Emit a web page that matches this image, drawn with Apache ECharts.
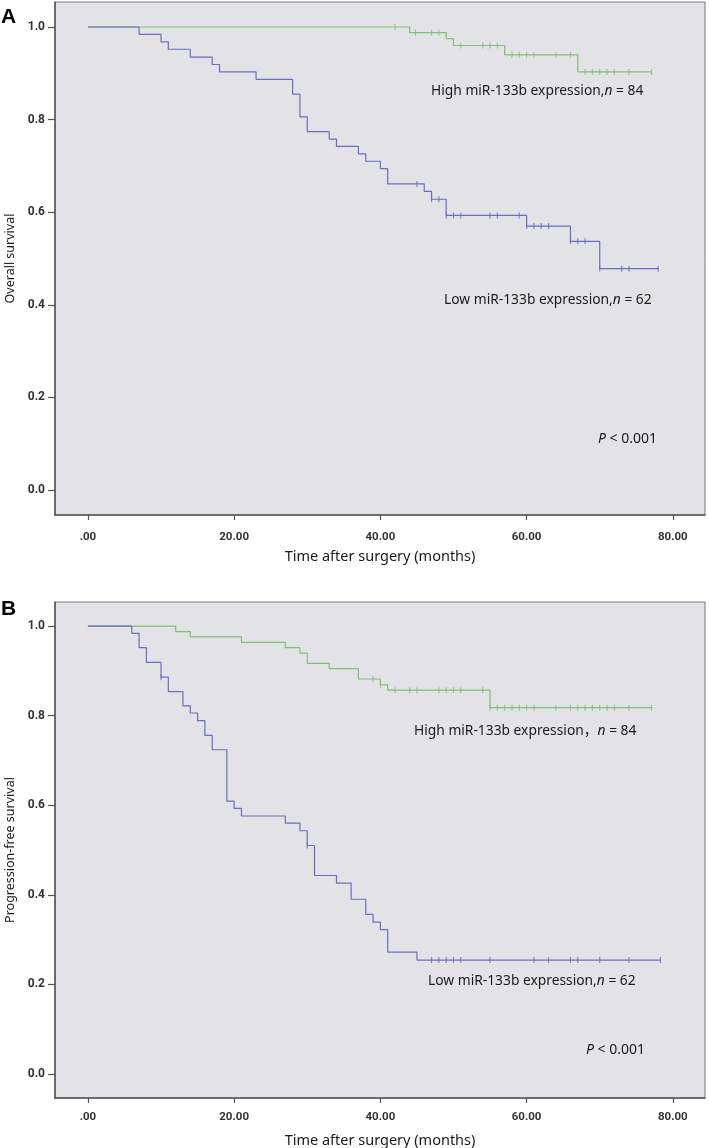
<!DOCTYPE html>
<html>
<head>
<meta charset="utf-8">
<script src="https://cdn.jsdelivr.net/npm/echarts@6/dist/echarts.min.js"></script>
<style>html,body{margin:0;padding:0;background:#fff;}#c{width:709px;height:1148px;}</style>
</head>
<body>
<div id="c"></div>
<script>
// ---- Tick labels ----
const xTicks = [0, 20, 40, 60, 80];
const xTickLabels = ['.00', '20.00', '40.00', '60.00', '80.00'];
const yTicks = [0, 0.2, 0.4, 0.6, 0.8, 1.0];
const yTickLabels = ['0.0', '0.2', '0.4', '0.6', '0.8', '1.0'];

// ---- Panel A: Overall survival ----
const aLowTimes  = [0, 7, 10, 11, 14, 17, 18, 23, 28, 29, 30, 33, 34, 37, 38, 40, 41, 46, 47, 49, 60, 66, 70, 78];
const aLowSurv   = [1, 0.984, 0.968, 0.952, 0.935, 0.919, 0.903, 0.887, 0.855, 0.806, 0.774, 0.758, 0.742, 0.726, 0.710, 0.694, 0.661, 0.645, 0.628, 0.593, 0.570, 0.537, 0.478, 0.478];
const aLowCens   = [45, 47, 48, 49, 50, 51, 55, 56, 59, 60, 61, 62, 63, 66, 67, 68, 70, 73, 74, 78];
const aHighTimes = [0, 44, 49, 50, 57, 67, 77.1];
const aHighSurv  = [1, 0.988, 0.975, 0.960, 0.940, 0.903, 0.903];
const aHighCens  = [42, 44.8, 47, 48, 51, 54, 55, 56, 58, 59, 60, 61, 64, 66, 68, 69, 70, 71, 72, 74, 77.1];

// ---- Panel B: Progression-free survival ----
const bLowTimes  = [0, 6, 7, 8, 10, 11, 13, 14, 15, 16, 17, 19, 20, 21, 27, 29, 30, 31, 34, 36, 38, 39, 40, 41, 45, 78.3];
const bLowSurv   = [1, 0.984, 0.952, 0.919, 0.886, 0.854, 0.822, 0.806, 0.789, 0.756, 0.724, 0.609, 0.593, 0.576, 0.560, 0.543, 0.510, 0.443, 0.426, 0.390, 0.356, 0.339, 0.322, 0.272, 0.254, 0.254];
const bLowCens   = [10, 30, 47, 48, 49, 50, 51, 55, 61, 63, 66, 67, 70, 74, 78.3];
const bHighTimes = [0, 12, 14, 21, 27, 29, 30, 33, 37, 40, 41, 55, 77.1];
const bHighSurv  = [1, 0.988, 0.976, 0.964, 0.952, 0.940, 0.917, 0.905, 0.882, 0.869, 0.857, 0.818, 0.818];
const bHighCens  = [39, 40, 42, 44, 45, 48, 49, 50, 51, 54, 55, 56, 57, 58, 59, 60, 61, 64, 66, 67, 68, 69, 70, 71, 72, 74, 77.1];

const GREEN = '#84bd78';
const BLUE = '#6a6dbf';
const BG = '#e3e3e7';
const TXT = '#1a1a1a';
const FONT = 'Noto Sans, Noto Sans CJK SC';

function pairs(t, s) { return t.map((v, i) => [v, s[i]]); }
function survAt(t, s, x) { let v = s[0]; for (let i = 0; i < t.length; i++) { if (t[i] <= x) v = s[i]; } return v; }
function cens(t, s, c) { return c.map(x => [x, survAt(t, s, x)]); }

function xAxis(gi) {
  return {
    type: 'value', gridIndex: gi, min: -4.5, max: 84.4,
    name: 'Time after surgery (months)', nameLocation: 'middle', nameGap: gi === 0 ? 35 : 36,
    nameTextStyle: { fontSize: 14.5, color: TXT, fontFamily: FONT },
    axisLine: { show: true, onZero: false, lineStyle: { color: '#555', width: 1.5 } },
    axisTick: { show: true, length: 5, customValues: xTicks, lineStyle: { color: '#555', width: 1.2 } },
    axisLabel: { customValues: xTicks, margin: gi === 0 ? 16 : 13, fontSize: 11.5, fontWeight: 'bold', color: '#333', fontFamily: 'Roboto',
      formatter: v => xTickLabels[xTicks.indexOf(v)] },
    splitLine: { show: false }
  };
}
function yAxis(gi, name) {
  return {
    type: 'value', gridIndex: gi, min: -0.054, max: 1.054,
    name: name, nameLocation: 'middle', nameRotate: 90, nameGap: 38,
    nameTextStyle: { fontSize: 12.5, color: TXT, fontFamily: FONT },
    axisLine: { show: true, onZero: false, lineStyle: { color: '#555', width: 1.5 } },
    axisTick: { show: true, length: 7, customValues: yTicks, lineStyle: { color: '#555', width: 1.2 } },
    axisLabel: { customValues: yTicks, margin: 10, fontSize: 12, fontWeight: 'bold', color: '#333', fontFamily: 'Roboto',
      formatter: v => yTickLabels[yTicks.indexOf(Math.round(v * 10) / 10)] },
    splitLine: { show: false }
  };
}
function km(gi, t, s, color) {
  return { type: 'line', xAxisIndex: gi, yAxisIndex: gi, step: 'end', data: pairs(t, s), showSymbol: false,
    lineStyle: { color: color, width: 1.2 }, silent: true, animation: false, z: 3 };
}
function cm(gi, t, s, c, color) {
  return { type: 'scatter', xAxisIndex: gi, yAxisIndex: gi, data: cens(t, s, c), symbol: 'rect', symbolSize: [1.2, 6],
    itemStyle: { color: color }, silent: true, animation: false, z: 4 };
}
function label(x, y, text, size) {
  return { type: 'text', x: x, y: y, z: 10, style: {
    text: text, fontSize: size, fontFamily: FONT, fill: TXT, verticalAlign: 'middle',
    rich: { i: { fontStyle: 'italic', fontSize: size, fontFamily: FONT, fill: TXT } } } };
}

const chart = echarts.init(document.getElementById('c'), null, { renderer: 'canvas' });
chart.setOption({
  animation: false,
  backgroundColor: '#ffffff',
  grid: [
    { left: 55, top: 2, width: 650, height: 513, show: true, backgroundColor: BG, borderColor: '#777', borderWidth: 1, containLabel: false, outerBoundsMode: 'none' },
    { left: 55, top: 602, width: 650, height: 496, show: true, backgroundColor: BG, borderColor: '#777', borderWidth: 1, containLabel: false, outerBoundsMode: 'none' }
  ],
  xAxis: [xAxis(0), xAxis(1)],
  yAxis: [yAxis(0, 'Overall survival'), yAxis(1, 'Progression-free survival')],
  series: [
    km(0, aHighTimes, aHighSurv, GREEN), cm(0, aHighTimes, aHighSurv, aHighCens, GREEN),
    km(0, aLowTimes, aLowSurv, BLUE), cm(0, aLowTimes, aLowSurv, aLowCens, BLUE),
    km(1, bHighTimes, bHighSurv, GREEN), cm(1, bHighTimes, bHighSurv, bHighCens, GREEN),
    km(1, bLowTimes, bLowSurv, BLUE), cm(1, bLowTimes, bLowSurv, bLowCens, BLUE)
  ],
  graphic: [
    { type: 'text', x: 1, y: 17, style: { text: 'A', fontSize: 21, fontWeight: 'bold', fill: '#000', fontFamily: 'Liberation Sans', verticalAlign: 'middle' } },
    { type: 'text', x: 1, y: 609, style: { text: 'B', fontSize: 21, fontWeight: 'bold', fill: '#000', fontFamily: 'Liberation Sans', verticalAlign: 'middle' } },
    label(431, 91, 'High miR-133b expression,{i|n} = 84', 13.8),
    label(444, 300, 'Low miR-133b expression,{i|n} = 62', 13.8),
    label(598, 439, '{i|P} < 0.001', 14),
    label(414, 731, 'High miR-133b expression，{i|n} = 84', 13.8),
    label(428, 981, 'Low miR-133b expression,{i|n} = 62', 13.8),
    label(586, 1050, '{i|P} < 0.001', 14)
  ]
});
</script>
</body>
</html>
